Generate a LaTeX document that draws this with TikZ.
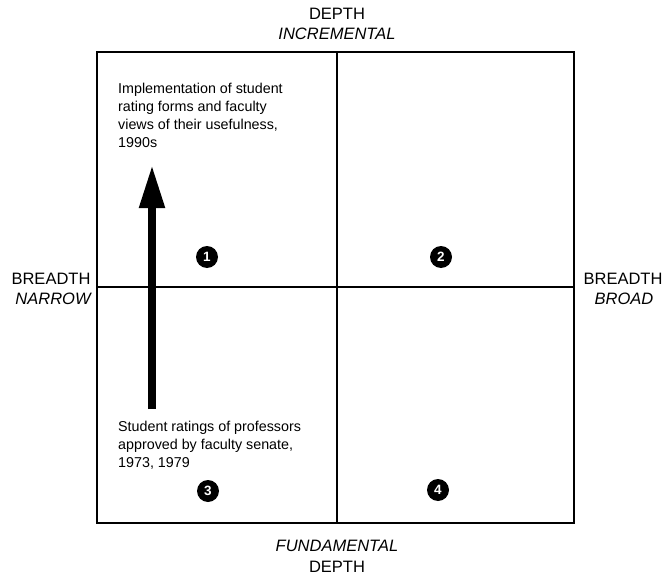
\documentclass[tikz,border=0pt]{standalone}
\usepackage{fontspec}
\setmainfont{Liberation Sans}
\usetikzlibrary{arrows.meta,positioning}

\begin{document}
\begin{tikzpicture}[x=1pt,y=-1pt,
  axislabel/.style={font=\fontsize{16.5}{19}\selectfont,inner sep=0pt},
  note/.style={font=\fontsize{14.3}{18}\selectfont,align=left,inner sep=0pt,anchor=base west},
  quadnum/.style={circle,fill=black,text=white,minimum size=22pt,inner sep=0pt,font=\fontsize{13.5}{13.5}\selectfont\bfseries}]
\useasboundingbox (0,0) rectangle (662,578);
% frame and quadrants
\draw[line width=2pt] (97,52) rectangle (574,523);
\draw[line width=1.4pt] (337,52)--(337,523);
\draw[line width=1.4pt] (97,287)--(574,287);
% axis labels
\node[axislabel] (depthtop) at (337,14) {DEPTH};
\node[axislabel] (incremental) at (337,34) {\itshape INCREMENTAL};
\node[axislabel] (fundamental) at (337,546) {\itshape FUNDAMENTAL};
\node[axislabel] (depthbot) at (337,567) {DEPTH};
\node[axislabel] (breadthl) at (51,279) {BREADTH};
\node[axislabel] (narrow) at (53,299) {\itshape NARROW};
\node[axislabel] (breadthr) at (623,279) {BREADTH};
\node[axislabel] (broad) at (624,299) {\itshape BROAD};
% quadrant numbers
\node[quadnum] (q1) at (207,257) {1};
\node[quadnum] (q2) at (441,257) {2};
\node[quadnum] (q3) at (208,491) {3};
\node[quadnum] (q4) at (438,490) {4};
% notes (anchored at the baseline of the last line)
\node[note] (later) at (118,147) {Implementation of student\\rating forms and faculty\\views of their usefulness,\\1990s};
\node[note] (earlier) at (118,467) {Student ratings of professors\\approved by faculty senate,\\1973, 1979};
% arrow
\coordinate (arrbase) at (152,409);
\coordinate (arrtip) at (152,165);
\draw[line width=8pt,-{Triangle[width=24pt,length=43pt]}] (arrbase)--(arrtip);
\end{tikzpicture}
\end{document}
